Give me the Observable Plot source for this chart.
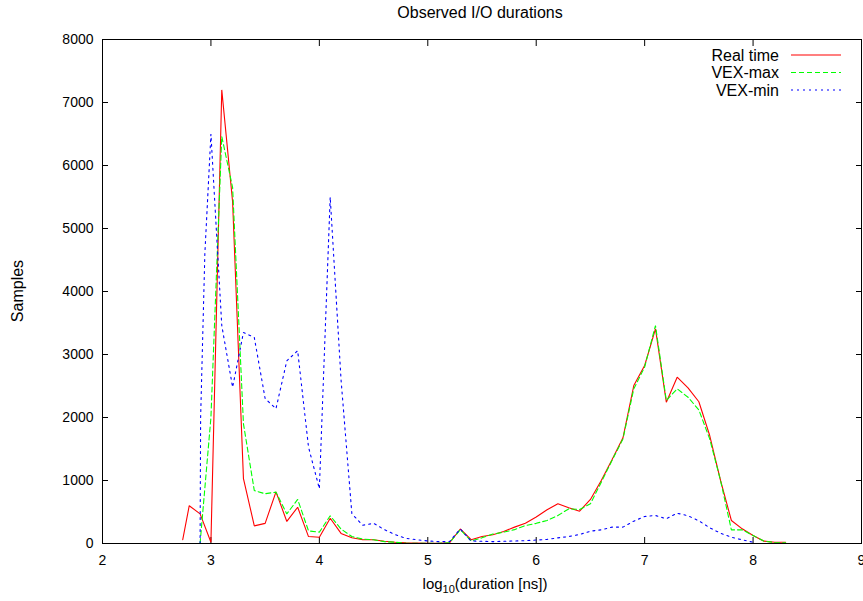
<!DOCTYPE html>
<html><head><meta charset="utf-8">
<script src="https://cdn.jsdelivr.net/npm/d3@7"></script>
<script src="https://cdn.jsdelivr.net/npm/@observablehq/plot@0.6"></script>
<style>body{margin:0;background:#fff} #chart svg{font-family:"Liberation Sans",Arial,sans-serif}</style>
</head><body><div id="chart"></div>
<script>
const title = "Observed I/O durations";
const yLabel = "Samples";
const seriesNames = ["Real time", "VEX-max", "VEX-min"];
const xTicks = [2, 3, 4, 5, 6, 7, 8, 9];
const yTicks = [0, 1000, 2000, 3000, 4000, 5000, 6000, 7000, 8000];

const realX = [2.74, 2.8, 2.9, 3.0, 3.1, 3.2, 3.3, 3.4, 3.5, 3.6, 3.7, 3.8, 3.9, 4.0, 4.1, 4.2, 4.3, 4.4, 4.5, 4.6, 4.7, 4.8, 4.9, 5.0, 5.1, 5.2, 5.3, 5.4, 5.5, 5.6, 5.7, 5.8, 5.9, 6.0, 6.1, 6.2, 6.3, 6.4, 6.5, 6.6, 6.7, 6.8, 6.9, 7.0, 7.1, 7.2, 7.3, 7.4, 7.5, 7.6, 7.7, 7.8, 7.9, 8.0, 8.1, 8.2, 8.3];
const realY = [60, 600, 470, 20, 7200, 5420, 1030, 280, 320, 820, 350, 576, 110, 100, 400, 160, 90, 60, 60, 35, 20, 10, 8, 5, 5, 10, 230, 60, 110, 140, 190, 260, 320, 420, 535, 630, 567, 513, 700, 1000, 1333, 1678, 2508, 2825, 3408, 2243, 2640, 2471, 2250, 1714, 1000, 365, 233, 127, 37, 20, 20];

const maxX = [2.9, 3.0, 3.1, 3.2, 3.3, 3.4, 3.5, 3.6, 3.7, 3.8, 3.9, 4.0, 4.1, 4.2, 4.3, 4.4, 4.5, 4.6, 4.7, 4.8, 4.9, 5.0, 5.1, 5.2, 5.3, 5.4, 5.5, 5.6, 5.7, 5.8, 5.9, 6.0, 6.1, 6.2, 6.3, 6.4, 6.5, 6.6, 6.7, 6.8, 6.9, 7.0, 7.1, 7.2, 7.3, 7.4, 7.5, 7.6, 7.7, 7.8, 7.9, 8.0, 8.1, 8.2, 8.3];
const maxY = [0, 2000, 6460, 5650, 1900, 840, 790, 815, 470, 700, 200, 180, 440, 230, 110, 70, 60, 30, 20, 5, 5, 5, 5, 10, 220, 40, 90, 150, 180, 220, 285, 320, 365, 445, 550, 540, 630, 973, 1320, 1660, 2455, 2800, 3460, 2270, 2455, 2322, 2120, 1660, 1000, 217, 217, 127, 37, 15, 10];

const minX = [2.9, 2.905, 2.944, 3.0, 3.1, 3.2, 3.3, 3.4, 3.5, 3.6, 3.7, 3.8, 3.9, 4.0, 4.1, 4.2, 4.3, 4.4, 4.5, 4.6, 4.7, 4.8, 4.9, 5.0, 5.1, 5.2, 5.3, 5.4, 5.5, 5.6, 5.7, 5.8, 5.9, 6.0, 6.1, 6.2, 6.3, 6.4, 6.5, 6.6, 6.7, 6.8, 6.9, 7.0, 7.1, 7.2, 7.3, 7.4, 7.5, 7.6, 7.7, 7.8, 7.9, 8.0];
const minY = [0, 2000, 4600, 6500, 3460, 2480, 3350, 3270, 2300, 2140, 2900, 3060, 1530, 870, 5500, 2600, 470, 290, 320, 220, 140, 80, 60, 40, 30, 30, 230, 40, 35, 30, 35, 40, 45, 55, 65, 90, 110, 143, 195, 217, 260, 260, 355, 428, 445, 392, 481, 440, 360, 250, 163, 100, 58, 20];

const colors = ["#ff0000", "#00ff00", "#0000ff"];
const dashes = [null, "5,3", "2,4"];

const rows = (xs, ys) => xs.map((x, i) => ({x, y: ys[i]}));
const data = [rows(realX, realY), rows(maxX, maxY), rows(minX, minY)];

const noText = () => "";
const plot = Plot.plot({
  width: 863, height: 601,
  marginLeft: 102, marginRight: 2, marginTop: 39, marginBottom: 58,
  style: {fontFamily: "Liberation Sans, Arial, sans-serif", fontSize: "14px", background: "white", color: "black"},
  x: {domain: [2, 9]},
  y: {domain: [0, 8000]},
  marks: [
    Plot.axisX({ticks: xTicks, anchor: "bottom", tickSize: 0, tickPadding: 12, label: null, tickFormat: d => String(d)}),
    Plot.axisX({ticks: xTicks, anchor: "bottom", tickSize: 6, dy: -6, tickFormat: noText, label: null}),
    Plot.axisX({ticks: xTicks, anchor: "top", tickSize: 6, dy: 6, tickFormat: noText, label: null}),
    Plot.axisY({ticks: yTicks, anchor: "left", tickSize: 0, tickPadding: 9, label: null, tickFormat: d => String(d)}),
    Plot.axisY({ticks: yTicks, anchor: "left", tickSize: 6, dx: 6, tickFormat: noText, label: null}),
    Plot.axisY({ticks: yTicks, anchor: "right", tickSize: 6, dx: -6, tickFormat: noText, label: null}),
    ...data.map((d, i) => Plot.line(d, {x: "x", y: "y", stroke: colors[i], strokeWidth: 1.1, strokeDasharray: dashes[i], strokeLinejoin: "miter"})),
    Plot.frame({stroke: "black", strokeWidth: 1})
  ]
});
document.getElementById("chart").appendChild(plot);

const svg = d3.select(plot);
const font = "Liberation Sans, Arial, sans-serif";
svg.append("text").attr("x", 480).attr("y", 18).attr("text-anchor", "middle")
  .attr("font-size", 16).attr("font-family", font).text(title);
svg.append("text").attr("transform", "translate(23,291) rotate(-90)").attr("text-anchor", "middle")
  .attr("font-size", 16).attr("font-family", font).text(yLabel);
const xl = svg.append("text").attr("x", 485).attr("y", 589).attr("text-anchor", "middle")
  .attr("font-size", 15).attr("font-family", font);
xl.append("tspan").text("log");
xl.append("tspan").attr("font-size", 11).attr("dy", 4).text("10");
xl.append("tspan").attr("dy", -4).text("(duration [ns])");

const legendY = [55, 72.5, 90];
seriesNames.forEach((name, i) => {
  svg.append("text").attr("x", 779).attr("y", legendY[i] + 5.5).attr("text-anchor", "end")
    .attr("font-size", 16).attr("font-family", font).text(name);
  svg.append("line").attr("x1", 791).attr("x2", 841).attr("y1", legendY[i]).attr("y2", legendY[i])
    .attr("stroke", colors[i]).attr("stroke-width", 1.1).attr("stroke-dasharray", dashes[i]);
});
</script></body></html>
